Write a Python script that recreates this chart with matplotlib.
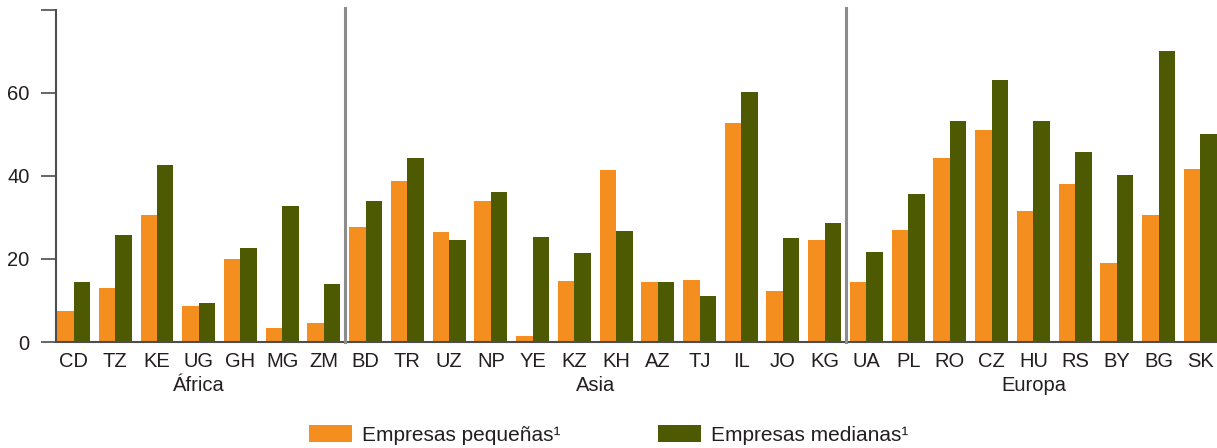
import matplotlib
matplotlib.use("Agg")
import matplotlib.pyplot as plt
from matplotlib.patches import Patch
from matplotlib.transforms import blended_transform_factory
import numpy as np

plt.rcParams['font.family'] = ['Liberation Sans', 'DejaVu Sans']

countries = ["CD", "TZ", "KE", "UG", "GH", "MG", "ZM",
             "BD", "TR", "UZ", "NP", "YE", "KZ", "KH", "AZ", "TJ", "IL", "JO", "KG",
             "UA", "PL", "RO", "CZ", "HU", "RS", "BY", "BG", "SK"]
regions = ["África", "Asia", "Europa"]
region_sizes = [7, 12, 9]
small = [7.4, 12.9, 30.5, 8.6, 19.9, 3.3, 4.5,
         27.6, 38.7, 26.4, 33.9, 1.4, 14.6, 41.4, 14.4, 14.9, 52.7, 12.2, 24.5,
         14.4, 26.9, 44.3, 51.2, 31.5, 38.0, 19.0, 30.5, 41.8]
medium = [14.4, 25.7, 42.6, 9.3, 22.6, 32.7, 13.9,
          33.9, 44.3, 24.5, 36.1, 25.2, 21.4, 26.7, 14.4, 11.0, 60.2, 25.0, 28.6,
          21.6, 35.6, 53.2, 63.1, 53.2, 45.7, 40.2, 70.0, 50.0]
yticks = [0, 20, 40, 60, 80]
ytick_labels = ["0", "20", "40", "60", ""]
legend_labels = ["Empresas pequeñas¹", "Empresas medianas¹"]

orange = "#F48E1F"
green = "#4E5A02"
txt = "#231F20"
spine_c = "#4D4D4D"
fs = 14.5

fig = plt.figure(figsize=(12.17, 4.48), dpi=100)
ax = fig.add_axes([56/1217, 1-342/448, 1-56/1217, 332/448])

x = np.arange(len(countries))
w = 0.395
ax.bar(x - w/2, small, width=w, color=orange, linewidth=0)
ax.bar(x + w/2, medium, width=w, color=green, linewidth=0)

ax.set_xlim(-0.42, len(countries) - 1 + w + 0.005)
ax.set_ylim(0, 80)

# group separators
bounds = np.cumsum(region_sizes)[:-1]
for b in bounds:
    ax.plot([b - 0.5, b - 0.5], [0, 80.5], color="#8C8C8D", lw=2.2, clip_on=False, zorder=3)

ax.set_xticks(x)
ax.set_xticklabels(countries, fontsize=fs, color=txt)
ax.tick_params(axis='x', length=0, pad=7)
ax.set_yticks(yticks)
ax.set_yticklabels(ytick_labels, fontsize=fs, color=txt)
ax.tick_params(axis='y', length=11, width=1.2, color=spine_c, pad=8, direction='out')

for s in ["top", "right"]:
    ax.spines[s].set_visible(False)
for s in ["left", "bottom"]:
    ax.spines[s].set_color(spine_c)
    ax.spines[s].set_linewidth(1.5)

trans = blended_transform_factory(ax.transData, ax.transAxes)
start = 0
for name, n in zip(regions, region_sizes):
    center = start + (n - 1) / 2
    ax.text(center, -0.1325, name, transform=trans, ha='center', va='center',
            fontsize=fs, color=txt)
    start += n

handles = [Patch(facecolor=orange, edgecolor='none'), Patch(facecolor=green, edgecolor='none')]
fig.legend(handles, legend_labels, loc='center', bbox_to_anchor=(0.5, 13/448),
           ncol=2, frameon=False, fontsize=15, handlelength=2.07, handleheight=0.91,
           handletextpad=0.48, columnspacing=4.66, labelcolor=txt,
           borderpad=0, borderaxespad=0)

fig.savefig("out.png", dpi=100)
